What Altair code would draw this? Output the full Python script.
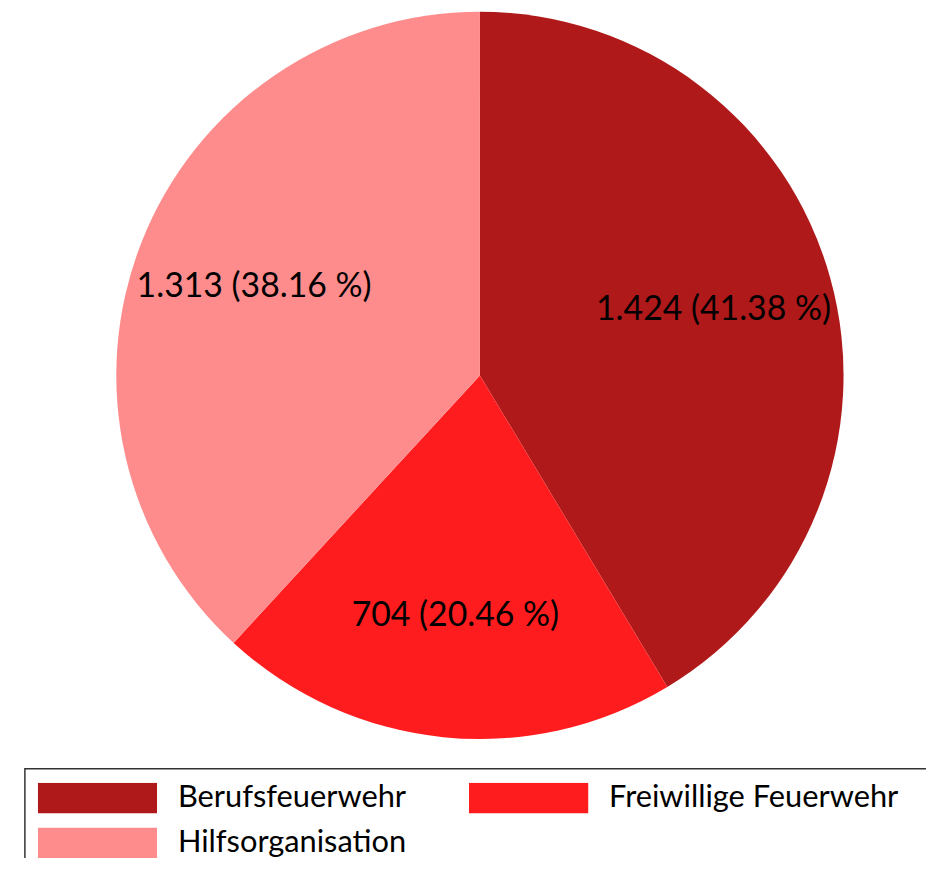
import altair as alt
import pandas as pd

categories = ["Berufsfeuerwehr", "Freiwillige Feuerwehr", "Hilfsorganisation"]
values = [1424, 704, 1313]
colors = ["#B0191A", "#FF1C1E", "#FF8C8C"]

total = sum(values)

def de_num(v):
    return f"{v:,}".replace(",", ".")

labels = [f"{de_num(v)} ({v / total * 100:.2f} %)" for v in values]

df = pd.DataFrame({
    "Kategorie": categories,
    "Wert": values,
    "Label": labels,
    "Ordnung": list(range(len(categories))),
})

FONT = "Lato"
CX, CY, R = 475, 367, 366

color_scale = alt.Scale(domain=categories, range=colors)

base = alt.Chart(df).encode(
    theta=alt.Theta("Wert:Q", stack=True),
    order=alt.Order("Ordnung:Q", sort="ascending"),
)

pie = base.mark_arc(outerRadius=R, strokeWidth=0).encode(
    x=alt.value(CX),
    y=alt.value(CY),
    color=alt.Color(
        "Kategorie:N",
        scale=color_scale,
        legend=alt.Legend(
            title=None,
            orient="none",
            legendX=30,
            legendY=777,
            direction="horizontal",
            columns=2,
            symbolType="M-1,-0.258L1,-0.258L1,0.258L-1,0.258Z",
            symbolSize=14400,
            symbolStrokeWidth=0,
            symbolOpacity=1,
            clipHeight=31,
            labelFont=FONT,
            labelFontSize=31,
            labelColor="#000000",
            labelOffset=21,
            labelLimit=600,
            columnPadding=63,
            rowPadding=13,
            padding=0,
        ),
    ),
)

text = base.mark_text(font=FONT, fontSize=34, color="#000000").encode(
    x=alt.value(CX),
    y=alt.value(CY),
    radius=alt.value(244),
    text="Label:N",
)

box = alt.Chart(pd.DataFrame({"a": [0]})).mark_rect(
    filled=False, stroke="#333333", strokeWidth=1.5
).encode(
    x=alt.value(17), x2=alt.value(1200), y=alt.value(763), y2=alt.value(1200)
)

chart = alt.layer(box, pie, text).properties(
    width=924,
    height=850,
    autosize=alt.AutoSizeParams(type="none"),
    padding=0,
).configure_view(stroke=None)

chart.save("out.html", embed_options={"renderer": "svg", "actions": False})
